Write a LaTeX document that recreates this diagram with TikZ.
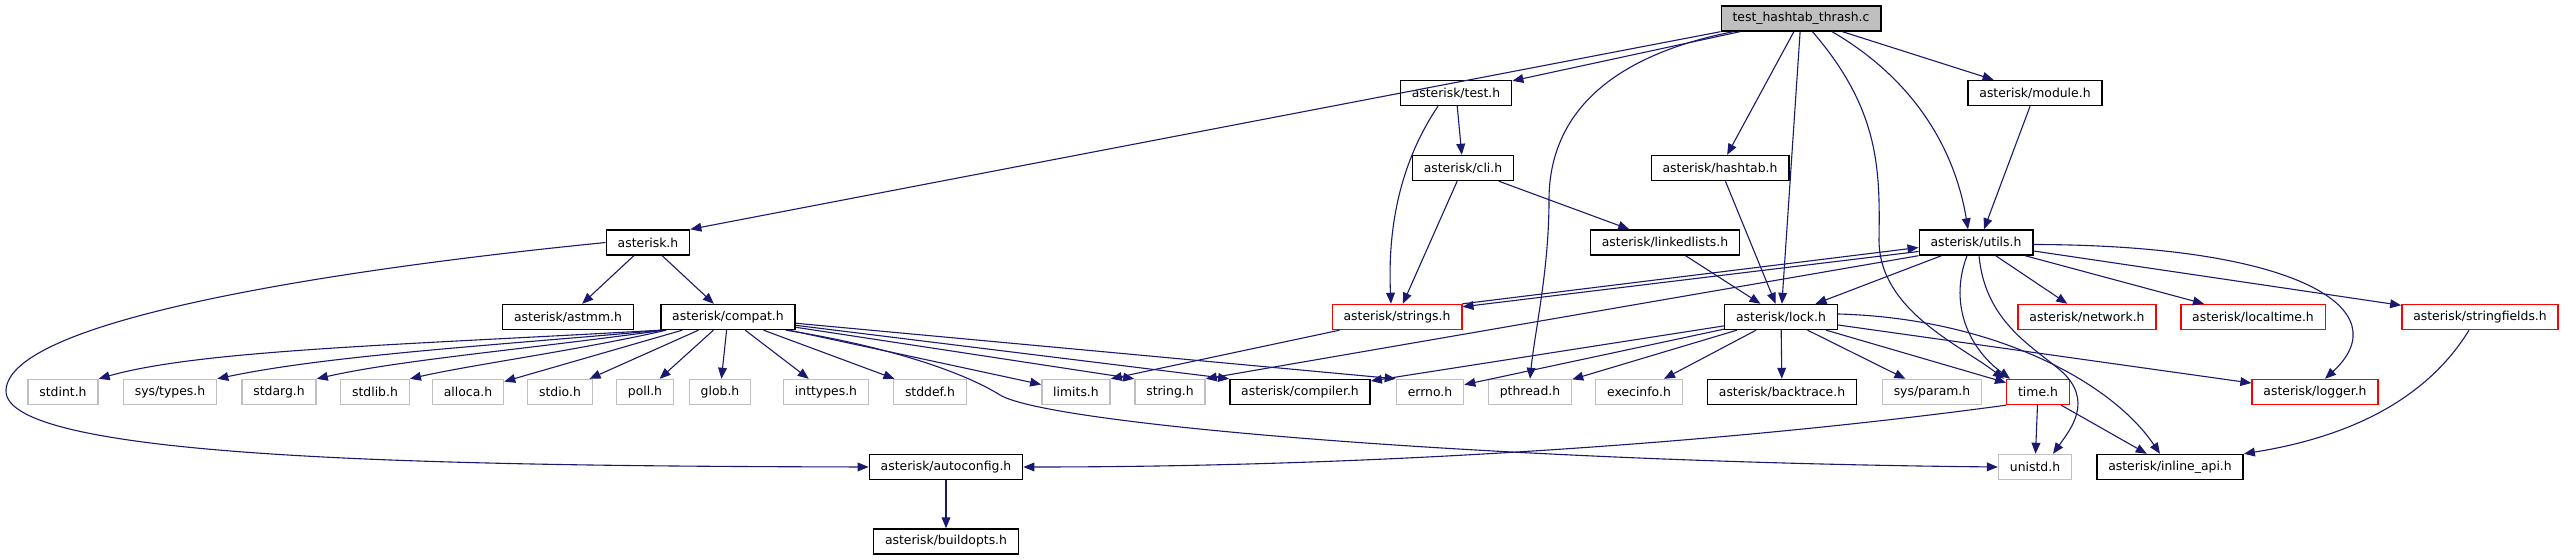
\documentclass[tikz,border=0pt]{standalone}
\usepackage{fontspec}
\setmainfont{DejaVu Sans}
\usetikzlibrary{arrows.meta}

\begin{document}
\begin{tikzpicture}[x=0.5pt,y=-0.5pt]
\definecolor{incblue}{HTML}{191970}
\definecolor{sysgrey}{HTML}{BFBFBF}
\tikzset{file/.style={draw=black,line width=0.7pt,fill=white,inner xsep=5.7pt,inner ysep=0pt,
    minimum height=12.5pt,font=\fontsize{6.2pt}{7pt}\selectfont},
  redfile/.style={file,draw=red},
  sysfile/.style={file,draw=sysgrey},
  rootfile/.style={file,fill=sysgrey},
  inc/.style={draw=incblue,line width=0.55pt,-{Triangle[length=5.5pt,width=4.4pt]}}}
\useasboundingbox (0,0) rectangle (2565,560);

% the file and the headers it pulls in, one row per depth
\node[rootfile] (test) at (1801,18.5) {test\_hashtab\_thrash.c};
\node[file] (testh) at (1456,93) {asterisk/test.h};
\node[file] (module) at (2035,93) {asterisk/module.h};
\node[file] (cli) at (1463,168) {asterisk/cli.h};
\node[file] (hashtab) at (1720,168) {asterisk/hashtab.h};
\node[file] (asterisk) at (648,242.5) {asterisk.h};
\node[file] (linkedlists) at (1665,242.5) {asterisk/linkedlists.h};
\node[file] (utils) at (1976,242.5) {asterisk/utils.h};
\node[file] (astmm) at (568,317) {asterisk/astmm.h};
\node[file] (compat) at (728,317) {asterisk/compat.h};
\node[redfile] (strings) at (1397,317) {asterisk/strings.h};
\node[file] (lock) at (1781,317) {asterisk/lock.h};
\node[redfile] (network) at (2087,317) {asterisk/network.h};
\node[redfile] (localtime) at (2253,317) {asterisk/localtime.h};
\node[redfile] (stringfields) at (2480,317) {asterisk/stringfields.h};
\foreach \name/\x/\kind/\txt in {stdint/63/sysfile/stdint.h, systypes/170/sysfile/{sys/types.h},
    stdarg/279/sysfile/stdarg.h, stdlib/375/sysfile/stdlib.h, alloca/468/sysfile/alloca.h,
    stdio/560/sysfile/stdio.h, poll/645/sysfile/poll.h, glob/720/sysfile/glob.h,
    inttypes/826/sysfile/inttypes.h, stddef/930/sysfile/stddef.h, limits/1076/sysfile/limits.h,
    string/1170/sysfile/string.h, compiler/1300/file/{asterisk/compiler.h}, errno/1430/sysfile/errno.h,
    pthread/1530/sysfile/pthread.h, execinfo/1639/sysfile/execinfo.h,
    backtrace/1782/file/{asterisk/backtrace.h}, sysparam/1932/sysfile/{sys/param.h},
    timeh/2038/redfile/time.h, logger/2315/redfile/{asterisk/logger.h}}
  \node[style=\kind] (\name) at (\x,392) {\txt};
\node[file] (autoconfig) at (946,467) {asterisk/autoconfig.h};
\node[sysfile] (unistd) at (2035,467) {unistd.h};
\node[file] (inlineapi) at (2170,467) {asterisk/inline\_api.h};
\node[file] (buildopts) at (946,541.5) {asterisk/buildopts.h};

% includes of test_hashtab_thrash.c
\draw[inc] (test.south west) -- (asterisk.north east);
\draw[inc] (test) -- (testh);
\draw[inc] (test.191) .. controls (1590,60) and (1549,130) .. (1549,200)
  .. controls (1549,270) and (1535,330) .. (pthread.north);
\draw[inc] (test) -- (hashtab);
\draw[inc] (test) -- (lock);
\draw[inc] (test.311) .. controls (1880,110) and (1880,170) .. (1879,240)
  .. controls (1879,310) and (1960,345) .. ([xshift=-1pt]timeh.north west);
\draw[inc] (test.337) .. controls (1915,80) and (1955,150) .. ([xshift=-4pt]utils.north);
\draw[inc] (test) -- (module);

% second level
\draw[inc] (testh) -- (cli);
\draw[inc] ([xshift=-9pt]testh.south) .. controls (1395,170) and (1388,240) .. ([xshift=-3pt]strings.north);
\draw[inc] (cli) -- (strings);
\draw[inc] (cli) -- (linkedlists);
\draw[inc] (hashtab) -- (lock);
\draw[inc] (linkedlists) -- (lock);
\draw[inc] (module) -- ([xshift=4pt]utils.north);

% asterisk.h and compat.h
\draw[inc] (asterisk) -- (astmm);
\draw[inc] (asterisk) -- (compat);
\draw[inc] (asterisk.west) .. controls (330,270) and (10,320) .. (6,390)
  .. controls (2,460) and (450,466) .. (autoconfig.west);
\draw[inc] (compat.south west) .. controls (400,345) and (200,350) .. (stdint.north east);
\draw[inc] ([xshift=1pt]compat.south west) .. controls (500,345) and (330,355) .. (systypes.north east);
\draw[inc] ([xshift=2pt]compat.south west) .. controls (520,350) and (400,360) .. (stdarg.north east);
\draw[inc] ([xshift=3pt]compat.south west) .. controls (580,350) and (470,365) .. (stdlib.north east);
\foreach \t in {alloca,stdio,poll,glob,inttypes,stddef,limits}
  \draw[inc] (compat) -- (\t);
\draw[inc] (compat) -- (string.north west);
\draw[inc] (compat) -- (compiler.north west);
\draw[inc] (compat) -- (errno.north west);
\draw[inc] ([xshift=-5pt]compat.south east) .. controls (880,345) and (960,370) .. (1000,395)
  .. controls (1050,425) and (1500,462) .. (unistd.west);

% utils.h and strings.h
\draw[inc] (strings.north east) -- ([yshift=-2.5pt]utils.west);
\draw[inc] ([yshift=-4.5pt]utils.west) -- ([yshift=-1.5pt]strings.north east);
\draw[inc] ([xshift=4pt]strings.south west) -- (limits.north east);
\draw[inc] (utils.south west) -- (string.north east);
\draw[inc] (utils) -- (lock);
\draw[inc] (utils) -- (network);
\draw[inc] (utils) -- (localtime);
\draw[inc] (utils) -- (stringfields);
\draw[inc] ([yshift=-1pt]utils.east) .. controls (2300,245) and (2400,310) .. ([xshift=5pt]logger.north);
\draw[inc] ([xshift=-4.5pt]utils.south) .. controls (1950,300) and (1965,345) .. ([xshift=2pt]timeh.north west);
\draw[inc] ([xshift=1.5pt]utils.south) .. controls (1985,320) and (2030,345) .. (2060,370)
  .. controls (2095,400) and (2070,430) .. ([xshift=9pt]unistd.north);

% lock.h
\foreach \t in {compiler,errno,pthread,execinfo,backtrace,sysparam,timeh,logger}
  \draw[inc] (lock) -- (\t);
\draw[inc] ([yshift=1.5pt]lock.east) .. controls (1990,318) and (2110,380) .. ([xshift=-5pt]inlineapi.north);

% bottom rows
\draw[inc] (timeh.south west) .. controls (1750,440) and (1400,467) .. (autoconfig.east);
\draw[inc] (timeh) -- (unistd);
\draw[inc] (timeh) -- (inlineapi);
\draw[inc] ([xshift=-5.5pt]stringfields.south) .. controls (2420,410) and (2330,440) .. (inlineapi.north east);
\draw[inc] (autoconfig) -- (buildopts);
\end{tikzpicture}
\end{document}
